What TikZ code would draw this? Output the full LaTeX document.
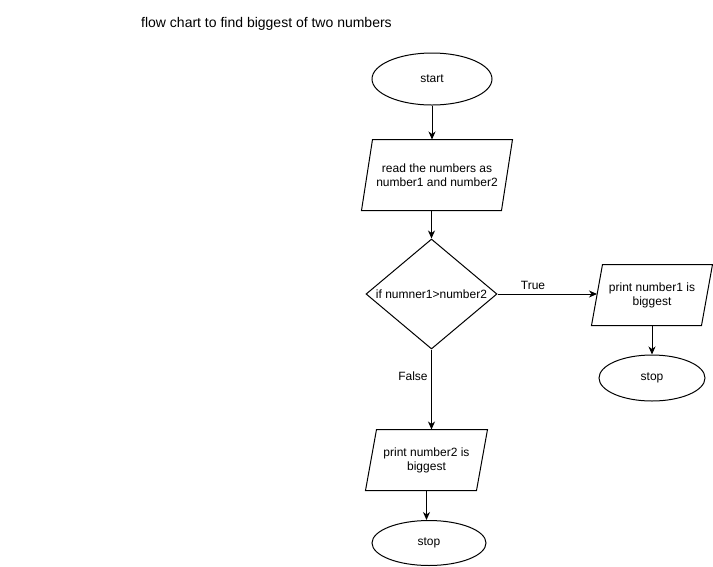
\documentclass[tikz,border=0pt]{standalone}
\usepackage{fontspec}
\setmainfont{Liberation Sans}
\usetikzlibrary{shapes.geometric,arrows.meta}
\tikzset{
  base/.style={line width=1pt, font=\fontsize{12}{14}\selectfont, align=center, inner sep=0pt},
  term/.style={base, draw, ellipse},
  iobox/.style={base, draw=none, rectangle},
  dec/.style={base, draw, diamond},
  conn/.style={line width=1pt, -{Stealth[length=8pt,width=7pt,inset=2.5pt]}},
  lbl/.style={font=\fontsize{12}{14}\selectfont, inner sep=0pt},
}
\newcommand{\paradraw}[2]{%
  \draw[line width=1pt] ([xshift=#2pt]#1.north west) -- ([xshift=#2pt]#1.north east)
    -- ([xshift=-#2pt]#1.south east) -- ([xshift=-#2pt]#1.south west) -- cycle;}
\begin{document}
\begin{tikzpicture}[x=1pt,y=-1pt]
\useasboundingbox (0,0) rectangle (713,566);
\node[lbl, font=\fontsize{14}{16}\selectfont, anchor=west] (title) at (141,24) {flow chart to find biggest of two numbers};

\node[term, minimum width=120pt, minimum height=52pt] (start) at (432,79) {start};
\node[iobox, minimum width=139pt, minimum height=70pt] (read) at (437,175) {read the numbers as\\number1 and number2};
\paradraw{read}{5.5}
\node[dec, minimum width=131pt, minimum height=110pt, aspect=1.19] (cond) at (431.5,294) {if numner1>number2};
\node[iobox, minimum width=109pt, minimum height=60pt] (p1) at (652,295) {print number1 is\\biggest};
\paradraw{p1}{5.5}
\node[term, minimum width=106pt, minimum height=46pt] (s1) at (652,378) {stop};
\node[iobox, minimum width=110pt, minimum height=60pt] (p2) at (426.5,460) {print number2 is\\biggest};
\paradraw{p2}{5.5}
\node[term, minimum width=114pt, minimum height=45pt] (s2) at (429,543) {stop};

\draw[conn] (start.south) -- (start.south |- read.north);
\draw[conn] (cond.north |- read.south) -- (cond.north);
\draw[conn] (cond.east) -- (p1.west |- cond.east) coordinate (p1in);
\draw[conn] (p1.south) -- (s1.north);
\draw[conn] (cond.south) -- (cond.south |- p2.north);
\draw[conn] (p2.south) -- (s2.north -| p2.south);

\node[lbl] (ltrue) at (533,285) {True};
\node[lbl] (lfalse) at (413,376) {False};
\end{tikzpicture}
\end{document}
